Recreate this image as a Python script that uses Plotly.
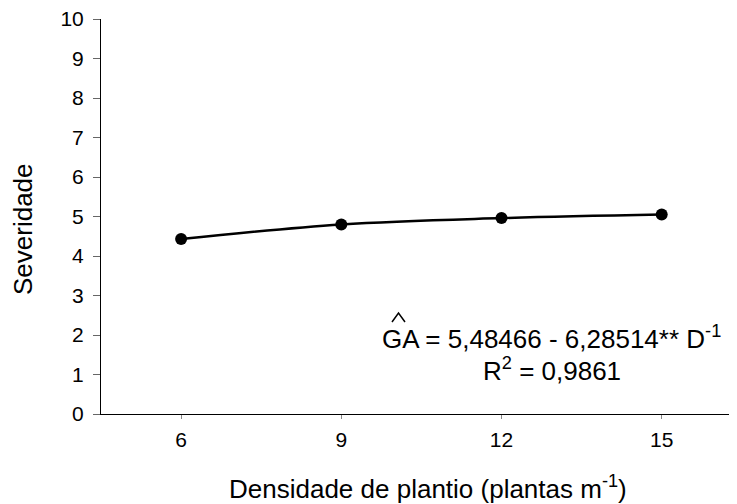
import plotly.graph_objects as go

# Planting density (plants per metre) and observed severity
densidade = [6, 9, 12, 15]
severidade = [4.43, 4.80, 4.96, 5.05]

x_ticks = [6, 9, 12, 15]
y_ticks = list(range(0, 11))

FONT = "Arial, Liberation Sans, sans-serif"

# page has an 8px body margin, so the figure is drawn 8px smaller and offset
OFF = 8
W, H = 737 - OFF, 504 - OFF
L, T, B = 101 - OFF, 19 - OFF, H - (414 - OFF)
PW, PH = W - L, H - T - B


def px(x):  # page pixel -> paper x
    return (x - OFF - L) / PW


def py(y):  # page pixel -> paper y
    return (H - B - (y - OFF)) / PH


fig = go.Figure(go.Scatter(
    x=densidade,
    y=severidade,
    mode='lines+markers',
    line=dict(color='black', width=2.5, shape='spline', smoothing=1),
    marker=dict(color='black', size=12),
    showlegend=False
))

fig.update_layout(
    width=W,
    height=H,
    margin=dict(l=L, r=0, t=T, b=B, autoexpand=False),
    plot_bgcolor='white',
    paper_bgcolor='white',
    font=dict(family=FONT, color='black', size=21),
    xaxis=dict(
        range=[4.5, 4.5 + PW / 53.4],
        tickvals=x_ticks,
        showline=True, linecolor='black', linewidth=1,
        ticks='outside', ticklen=4, tickcolor='#888888', tickwidth=1,
        ticklabelstandoff=3, ticklabeloverflow='allow',
        showgrid=False, zeroline=False,
    ),
    yaxis=dict(
        range=[0, 10],
        tickvals=y_ticks,
        showline=True, linecolor='black', linewidth=1,
        ticks='outside', ticklen=7, tickcolor='#666666', tickwidth=1,
        ticklabelstandoff=5, ticklabeloverflow='allow',
        showgrid=False, zeroline=False,
    ),
)

# axis titles
fig.add_annotation(
    text="Densidade de plantio (plantas m<sup>-1</sup>)",
    xref='paper', yref='paper', x=px(428), y=py(487),
    xanchor='center', yanchor='middle', showarrow=False,
    font=dict(size=26)
)
fig.add_annotation(
    text="Severidade",
    xref='paper', yref='paper', x=px(23), y=py(229),
    xanchor='center', yanchor='middle', textangle=-90, showarrow=False,
    font=dict(size=26)
)

# regression equation, one annotation per line
fig.add_annotation(
    text="GA = 5,48466 - 6,28514** D<sup>-1</sup>",
    xref='paper', yref='paper', x=px(551), y=py(337),
    xanchor='center', yanchor='middle', showarrow=False,
    font=dict(size=26)
)
fig.add_annotation(
    text="R<sup>2</sup> = 0,9861",
    xref='paper', yref='paper', x=px(552), y=py(369),
    xanchor='center', yanchor='middle', showarrow=False,
    font=dict(size=26)
)
# circumflex over GA
fig.add_shape(
    type='path',
    xref='paper', yref='paper',
    path=f"M {px(392)} {py(322)} L {px(398.5)} {py(313)} L {px(405)} {py(322)}",
    line=dict(color='black', width=1.5)
)

fig.write_html("out.html")
